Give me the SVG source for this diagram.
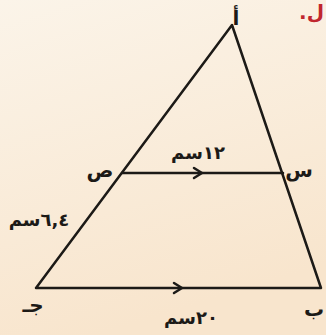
<svg xmlns="http://www.w3.org/2000/svg" width="326" height="335" viewBox="0 0 326 335">
<defs>
<linearGradient id="bg" x1="0" y1="0" x2="0.3" y2="1">
<stop offset="0" stop-color="#FBF4E9"/>
<stop offset="1" stop-color="#F8E5CD"/>
</linearGradient>
<path id="chev" d="M-7,-5 L1,0 L-7,5" fill="none" stroke="#1c1a17" stroke-width="2.5" stroke-linecap="round" stroke-linejoin="round"/>
</defs>
<style>
.edge{stroke:#1c1a17;stroke-width:2.5;fill:none;stroke-linecap:round;stroke-linejoin:round}
.lbl{font-family:"DejaVu Sans","Noto Sans",sans-serif;fill:#1c1a17;font-weight:bold}
</style>
<rect x="0" y="0" width="326" height="335" fill="url(#bg)"/>
<text x="324" y="19" direction="rtl" text-anchor="start" style="font-family:'DejaVu Sans',sans-serif;font-size:20px;font-weight:bold;fill:#C0262E">ل.</text>
<g id="connectors">
<path class="edge" d="M36,288 L232,25 L321,288 Z"/>
<path class="edge" d="M122,173 L283,173"/>
<use href="#chev" x="201" y="173"/>
<use href="#chev" x="181" y="288"/>
</g>
<g id="node-a"><text class="lbl" x="236" y="25" font-size="20" text-anchor="middle">أ</text></g>
<g id="node-b"><text class="lbl" x="314" y="316" font-size="20" text-anchor="middle">ب</text></g>
<g id="node-j"><text class="lbl" x="33" y="312" font-size="20" text-anchor="middle">جـ</text></g>
<g id="node-s"><text class="lbl" x="100" y="177" font-size="20" text-anchor="middle">ص</text></g>
<g id="node-sin"><text class="lbl" x="299" y="177" font-size="20" text-anchor="middle">س</text></g>
<g id="label-12"><text class="lbl" x="198" y="159" font-size="18" text-anchor="middle">١٢سم</text></g>
<g id="label-64"><text class="lbl" x="39" y="226" font-size="18" text-anchor="middle">٦,٤سم</text></g>
<g id="label-20"><text class="lbl" x="191" y="324" font-size="18" text-anchor="middle">٢٠سم</text></g>
</svg>
